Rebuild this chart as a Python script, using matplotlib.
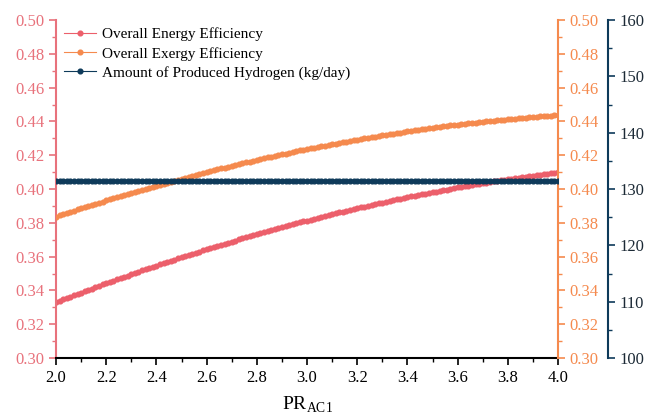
import numpy as np
import matplotlib
matplotlib.use("Agg")
import matplotlib.pyplot as plt
from matplotlib.ticker import MultipleLocator

plt.rcParams["font.family"] = ["Liberation Serif", "DejaVu Serif"]
plt.rcParams["mathtext.fontset"] = "custom"
plt.rcParams["mathtext.rm"] = "Liberation Serif"

# compressor pressure ratio sweep, 141 evaluation points
pr_ac1 = np.linspace(2.0, 4.0, 141)

energy_eff = [
    0.3330, 0.3338, 0.3347, 0.3355, 0.3363, 0.3371, 0.3379, 0.3387, 0.3395, 0.3403,
    0.3411, 0.3419, 0.3427, 0.3435, 0.3442, 0.3450, 0.3458, 0.3466, 0.3473, 0.3481,
    0.3488, 0.3496, 0.3503, 0.3511, 0.3518, 0.3525, 0.3533, 0.3540, 0.3547, 0.3554,
    0.3561, 0.3568, 0.3575, 0.3582, 0.3589, 0.3596, 0.3603, 0.3610, 0.3617, 0.3624,
    0.3630, 0.3637, 0.3644, 0.3650, 0.3657, 0.3663, 0.3670, 0.3676, 0.3683, 0.3689,
    0.3695, 0.3702, 0.3708, 0.3714, 0.3720, 0.3726, 0.3732, 0.3738, 0.3744, 0.3750,
    0.3756, 0.3762, 0.3768, 0.3774, 0.3780, 0.3785, 0.3791, 0.3797, 0.3802, 0.3808,
    0.3813, 0.3819, 0.3824, 0.3830, 0.3835, 0.3840, 0.3846, 0.3851, 0.3856, 0.3861,
    0.3866, 0.3871, 0.3876, 0.3881, 0.3886, 0.3891, 0.3896, 0.3901, 0.3906, 0.3910,
    0.3915, 0.3920, 0.3924, 0.3929, 0.3934, 0.3938, 0.3943, 0.3947, 0.3951, 0.3956,
    0.3960, 0.3964, 0.3968, 0.3973, 0.3977, 0.3981, 0.3985, 0.3989, 0.3993, 0.3997,
    0.4001, 0.4005, 0.4009, 0.4012, 0.4016, 0.4020, 0.4023, 0.4027, 0.4031, 0.4034,
    0.4038, 0.4041, 0.4045, 0.4048, 0.4051, 0.4055, 0.4058, 0.4061, 0.4064, 0.4067,
    0.4070, 0.4074, 0.4077, 0.4079, 0.4082, 0.4085, 0.4088, 0.4091, 0.4094, 0.4096,
    0.4099,
]

exergy_eff = [
    0.3837, 0.3844, 0.3851, 0.3858, 0.3865, 0.3872, 0.3879, 0.3886, 0.3893, 0.3899,
    0.3906, 0.3913, 0.3919, 0.3926, 0.3933, 0.3939, 0.3946, 0.3952, 0.3959, 0.3965,
    0.3971, 0.3978, 0.3984, 0.3990, 0.3996, 0.4002, 0.4008, 0.4014, 0.4020, 0.4026,
    0.4032, 0.4038, 0.4044, 0.4050, 0.4056, 0.4061, 0.4067, 0.4073, 0.4078, 0.4084,
    0.4089, 0.4095, 0.4100, 0.4106, 0.4111, 0.4116, 0.4122, 0.4127, 0.4132, 0.4137,
    0.4142, 0.4147, 0.4152, 0.4157, 0.4162, 0.4167, 0.4172, 0.4177, 0.4182, 0.4187,
    0.4191, 0.4196, 0.4201, 0.4205, 0.4210, 0.4214, 0.4219, 0.4223, 0.4228, 0.4232,
    0.4236, 0.4240, 0.4245, 0.4249, 0.4253, 0.4257, 0.4261, 0.4265, 0.4269, 0.4273,
    0.4277, 0.4281, 0.4285, 0.4289, 0.4292, 0.4296, 0.4300, 0.4303, 0.4307, 0.4310,
    0.4314, 0.4317, 0.4321, 0.4324, 0.4328, 0.4331, 0.4334, 0.4337, 0.4341, 0.4344,
    0.4347, 0.4350, 0.4353, 0.4356, 0.4359, 0.4362, 0.4365, 0.4367, 0.4370, 0.4373,
    0.4376, 0.4378, 0.4381, 0.4383, 0.4386, 0.4388, 0.4391, 0.4393, 0.4396, 0.4398,
    0.4400, 0.4403, 0.4405, 0.4407, 0.4409, 0.4411, 0.4413, 0.4415, 0.4417, 0.4419,
    0.4421, 0.4423, 0.4425, 0.4427, 0.4428, 0.4430, 0.4432, 0.4433, 0.4435, 0.4436,
    0.4438,
]

# hydrogen output does not change with the pressure ratio
hydrogen_kg_day = [131.5] * len(pr_ac1)

labels = [
    "Overall Energy Efficiency",
    "Overall Exergy Efficiency",
    "Amount of Produced Hydrogen (kg/day)",
]

c_energy = "#EC5F6B"
c_exergy = "#F58A4E"
c_h2 = "#0E3A5A"
c_energy_axis = "#E8727C"

fig = plt.figure(figsize=(6.58, 4.19), dpi=100)
ax = fig.add_axes([0.0851, 0.1456, 0.7630, 0.8066])
ax2 = ax.twinx()
ax3 = ax.twinx()
ax3.spines["right"].set_position(("axes", 1.099))

style = dict(marker="o", markersize=3.4, linewidth=0.8)
l1, = ax.plot(pr_ac1, energy_eff, color=c_energy, label=labels[0], **style)
l2, = ax2.plot(pr_ac1, exergy_eff, color=c_exergy, label=labels[1], **style)
l3, = ax3.plot(pr_ac1, hydrogen_kg_day, color=c_h2, label=labels[2], **style)

ax.set_xlim(2.0, 4.0)
ax.set_ylim(0.30, 0.50)
ax2.set_ylim(0.30, 0.50)
ax3.set_ylim(100, 160)

ax.xaxis.set_major_locator(MultipleLocator(0.2))
ax.xaxis.set_minor_locator(MultipleLocator(0.1))
for a in (ax, ax2):
    a.yaxis.set_major_locator(MultipleLocator(0.02))
    a.yaxis.set_minor_locator(MultipleLocator(0.01))
    a.yaxis.set_major_formatter(plt.FormatStrFormatter("%.2f"))
ax3.yaxis.set_major_locator(MultipleLocator(10))
ax3.yaxis.set_minor_locator(MultipleLocator(5))

for a in (ax, ax2, ax3):
    a.spines["top"].set_visible(False)
ax.spines["right"].set_visible(False)
ax2.spines["left"].set_visible(False)
ax3.spines["left"].set_visible(False)
ax3.spines["bottom"].set_visible(False)
ax2.spines["bottom"].set_visible(False)

ax.spines["left"].set_color(c_energy_axis)
ax.spines["left"].set_linewidth(1.5)
ax.spines["bottom"].set_linewidth(1.5)
ax2.spines["right"].set_color(c_exergy)
ax2.spines["right"].set_linewidth(1.5)
ax3.spines["right"].set_color(c_h2)
ax3.spines["right"].set_linewidth(1.5)

ax.tick_params(axis="x", which="major", direction="out", length=5, width=1.2,
               labelsize=12, pad=4)
ax.tick_params(axis="x", which="minor", direction="out", length=3, width=1.0)
ax.tick_params(axis="y", which="major", direction="out", length=5, width=1.2,
               color=c_energy_axis, labelcolor=c_energy_axis, labelsize=12)
ax.tick_params(axis="y", which="minor", direction="out", length=3, width=1.0,
               color=c_energy_axis)
ax2.tick_params(axis="y", which="major", direction="out", length=5, width=1.2,
                color=c_exergy, labelcolor=c_exergy, labelsize=12)
ax2.tick_params(axis="y", which="minor", direction="out", length=3, width=1.0,
                color=c_exergy)
ax3.tick_params(axis="y", which="major", direction="out", length=5, width=1.2,
                color=c_h2, labelcolor="#1C2A36", labelsize=12)
ax3.tick_params(axis="y", which="minor", direction="out", length=3, width=1.0,
                color=c_h2)

ax.set_xlabel(r"PR$_{\mathrm{AC1}}$", fontsize=14, labelpad=6)

ax.legend(handles=[l1, l2, l3], loc="upper left", frameon=False, fontsize=11,
          handlelength=2.1, handletextpad=0.4, labelspacing=0.35,
          borderaxespad=0.1, bbox_to_anchor=(0.0, 1.0))

fig.savefig("out.png", dpi=100)
